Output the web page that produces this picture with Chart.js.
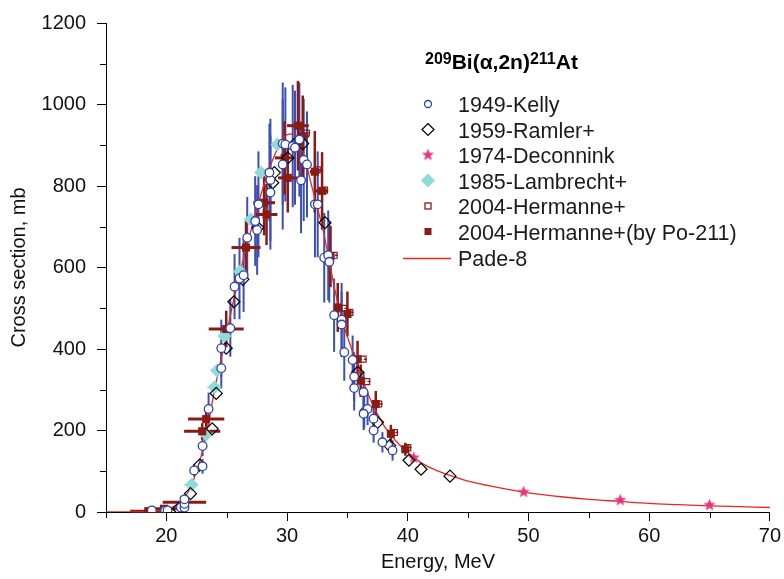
<!DOCTYPE html>
<html>
<head>
<meta charset="utf-8">
<script src="https://cdn.jsdelivr.net/npm/chart.js@4.4.1/dist/chart.umd.min.js"></script>
<style>
  html, body { margin: 0; padding: 0; background: #fff; }
  canvas { display: block; }
</style>
</head>
<body>
<canvas id="xsChart" width="784" height="579"></canvas>
<script>
// === DATA ===
const kellyE   = [18.8, 19.9, 20.1, 21.2, 21.5, 21.5, 21.5, 22.3, 23.0, 23.0, 23.5, 24.55, 24.55, 25.3, 25.65, 26.06, 26.4, 26.7, 27.36, 27.52, 27.63, 28.62, 28.62, 28.54, 29.64, 29.64, 29.86, 30.47, 30.66, 31.02, 31.38, 31.65, 31.16, 32.31, 32.54, 33.08, 33.41, 33.5, 33.9, 34.52, 34.52, 34.74, 35.43, 35.56, 35.56, 36.34, 36.39, 36.67, 36.34, 37.17, 37.17, 37.9, 38.74];
const kellyCS  = [4, 4, 4, 11, 11, 20, 31, 102, 112, 162, 253, 353, 402, 451, 553, 573, 581, 673, 714, 692, 755, 784, 815, 833, 853, 904, 902, 898, 894, 914, 864, 853, 814, 755, 755, 624, 630, 614, 483, 472, 460, 392, 373, 332, 304, 294, 245, 253, 241, 229, 200, 171, 151];
const kellyErr = [3, 3, 3, 5, 5, 6, 10, 15, 18, 25, 40, 50, 70, 70, 80, 100, 90, 100, 110, 110, 130, 140, 150, 120, 160, 150, 140, 150, 140, 140, 150, 130, 130, 130, 130, 110, 110, 100, 90, 90, 80, 70, 60, 60, 55, 50, 40, 40, 40, 35, 30, 25, 25];

const ramlerE  = [21.0, 22.0, 22.75, 23.8, 24.13, 24.96, 25.6, 26.34, 27.58, 28.82, 28.95, 30.06, 30.6, 31.3, 33.14, 35.86, 37.5, 38.5, 40.1, 41.1, 43.5];
const ramlerCS = [8, 45, 115, 204, 291, 402, 516, 571, 698, 808, 833, 869, 902, 904, 710, 343, 220, 163, 127, 105, 88];

const deconE   = [40.5, 49.6, 57.6, 65.0];
const deconCS  = [133, 49, 29, 17];

const lambE    = [22.1, 23.3, 24.0, 24.2, 24.8, 26.1, 27.0, 27.85, 29.2];
const lambCS   = [67, 190, 306, 347, 432, 590, 718, 833, 902];
const lambErrE = [0.6, 0.5, 0.6, 0.5, 0.5, 0.4, 0.5, 0.5, 0.4];

const hermE    = [31.6, 32.5, 33.1, 33.9, 34.7, 35.2, 36.3, 36.6, 37.6, 38.9, 40.0];
const hermCS   = [930, 840, 790, 630, 500, 490, 375, 320, 265, 195, 158];
const hermErrE = [0.35, 0.35, 0.35, 0.35, 0.35, 0.35, 0.35, 0.35, 0.35, 0.35, 0.35];

const poE      = [18.5, 19.8, 21.5, 22.97, 23.3, 24.96, 26.6, 28.1, 28.3, 29.8, 30.06, 30.9, 31.3, 32.3, 32.9, 33.6, 34.2, 35.0, 35.84, 36.1, 37.35, 38.6, 39.8];
const poCS     = [2, 8, 24, 198, 228, 449, 649, 759, 730, 869, 820, 948, 922, 835, 788, 627, 502, 486, 375, 322, 265, 192, 154];
const poErrE   = [1.5, 1.5, 1.8, 1.5, 1.5, 1.45, 1.2, 0.9, 0.9, 0.8, 0.8, 0.9, 0.5, 0.4, 0.5, 0.3, 0.3, 0.3, 0.3, 0.3, 0.3, 0.3, 0.3];
const poErrCS  = [0, 2, 5, 20, 25, 45, 65, 80, 75, 90, 85, 110, 100, 100, 95, 75, 60, 55, 45, 40, 32, 22, 16];

const padeE    = [15, 17, 18, 19, 20, 21, 21.5, 22, 22.5, 23, 23.5, 24, 24.5, 25, 25.5, 26, 26.5, 27, 27.5, 28, 28.5, 29, 29.5, 30, 30.5, 31, 31.5, 32, 32.5, 33, 33.5, 34, 34.5, 35, 35.5, 36, 36.5, 37, 37.5, 38, 38.5, 39, 40, 40.5, 41, 42, 43, 44, 45, 47, 50, 52.5, 55, 57.5, 60, 62.5, 65, 67.5, 70];
const padeCS   = [0, 0, 0.5, 2, 6, 20, 35, 60, 100, 150, 220, 300, 370, 440, 510, 575, 635, 690, 745, 795, 840, 878, 908, 926, 928, 908, 865, 805, 748, 690, 615, 540, 478, 430, 388, 345, 305, 270, 240, 213, 193, 175, 146, 135, 123, 107, 95, 85, 76, 63, 47, 38, 31, 26, 21, 18, 15, 13, 11];

const xTicksMajor = [20, 30, 40, 50, 60, 70];
const yTicksMajor = [0, 200, 400, 600, 800, 1000, 1200];

const legendLabels = ['1949-Kelly', '1959-Ramler+', '1974-Deconnink', '1985-Lambrecht+', '2004-Hermanne+', '2004-Hermanne+(by Po-211)', 'Pade-8'];

// === COLOURS ===
const BLUE = '#2e42ab';
const BLUE_BAR = '#3b4fb5';
const DARKRED = '#8a1a14';
const CYAN = '#8fdcd5';
const PINK = '#e8357f';
const RED = '#e8281e';
const FONT = "'Liberation Sans', Arial, sans-serif";

const pts = (xs, ys) => xs.map((x, i) => ({ x, y: ys[i] }));

function makeStar(r, color) {
    const c = document.createElement('canvas');
    c.width = c.height = Math.ceil(r * 2 + 2);
    const g = c.getContext('2d');
    const cx = c.width / 2, cy = c.height / 2;
    g.beginPath();
    for (let i = 0; i < 10; i++) {
        const rr = i % 2 ? r * 0.42 : r;
        const a = -Math.PI / 2 + i * Math.PI / 5;
        g.lineTo(cx + rr * Math.cos(a), cy + rr * Math.sin(a));
    }
    g.closePath();
    g.fillStyle = color;
    g.fill();
    return c;
}
const starImg = makeStar(6.5, PINK);

// === PLUGINS ===
const errorBars = {
    id: 'errorBars',
    beforeDatasetsDraw(chart) {
        const { ctx, scales: { x, y } } = chart;
        ctx.save();
        chart.data.datasets.forEach(ds => {
            if (!ds.err) return;
            ds.data.forEach((p, i) => {
                const px = x.getPixelForValue(p.x), py = y.getPixelForValue(p.y);
                const ey = ds.err.y ? ds.err.y[i] : 0;
                const ex = ds.err.x ? ds.err.x[i] : 0;
                if (ey) {
                    ctx.beginPath();
                    ctx.strokeStyle = ds.err.color;
                    ctx.lineWidth = ds.err.wy || 2;
                    ctx.setLineDash(ds.err.dash || []);
                    ctx.moveTo(px, y.getPixelForValue(p.y - ey));
                    ctx.lineTo(px, y.getPixelForValue(p.y + ey));
                    ctx.stroke();
                }
                if (ex) {
                    ctx.beginPath();
                    ctx.strokeStyle = ds.err.color;
                    ctx.lineWidth = ds.err.wx || 2;
                    ctx.setLineDash(ds.err.dash || []);
                    ctx.moveTo(x.getPixelForValue(p.x - ex), py);
                    ctx.lineTo(x.getPixelForValue(p.x + ex), py);
                    ctx.stroke();
                }
            });
        });
        ctx.restore();
    }
};

const minorTicks = {
    id: 'minorTicks',
    afterDraw(chart) {
        const { ctx, scales: { x, y }, chartArea } = chart;
        ctx.save();
        ctx.strokeStyle = '#000';
        ctx.lineWidth = 1;
        ctx.beginPath();
        x.ticks.forEach(t => {
            if (t.value % 10 === 0) return;
            const px = Math.round(x.getPixelForValue(t.value)) + 0.5;
            ctx.moveTo(px, chartArea.bottom);
            ctx.lineTo(px, chartArea.bottom + 6);
        });
        y.ticks.forEach(t => {
            if (t.value % 200 === 0) return;
            const py = Math.round(y.getPixelForValue(t.value)) + 0.5;
            ctx.moveTo(chartArea.left, py);
            ctx.lineTo(chartArea.left - 6, py);
        });
        ctx.stroke();
        ctx.restore();
    }
};

const sideLegend = {
    id: 'sideLegend',
    afterDraw(chart) {
        const { ctx } = chart;
        ctx.save();
        // title: 209Bi(α,2n)211At
        let tx = 425;
        const parts = [['209', true], ['Bi(\u03b1,2n)', false], ['211', true], ['At', false]];
        ctx.fillStyle = '#000';
        ctx.textBaseline = 'alphabetic';
        parts.forEach(([s, sup]) => {
            ctx.font = sup ? `bold 16px ${FONT}` : `bold 21px ${FONT}`;
            ctx.fillText(s, tx, sup ? 64 : 69);
            tx += ctx.measureText(s).width;
        });

        const mx = 428, textX = 458;
        const base = [112, 137.5, 163, 188.5, 214, 239.5, 266];
        ctx.font = `21.5px ${FONT}`;
        legendLabels.forEach((lab, i) => {
            ctx.fillStyle = '#1a1a1a';
            ctx.fillText(lab, textX, base[i]);
        });
        const cy = base.map(b => b - 8);
        // Kelly
        ctx.beginPath(); ctx.arc(mx, cy[0], 3.5, 0, Math.PI * 2);
        ctx.strokeStyle = BLUE; ctx.lineWidth = 1.3; ctx.stroke();
        // Ramler
        ctx.beginPath();
        ctx.moveTo(mx, cy[1] - 6); ctx.lineTo(mx + 6, cy[1]); ctx.lineTo(mx, cy[1] + 6); ctx.lineTo(mx - 6, cy[1]); ctx.closePath();
        ctx.strokeStyle = '#000'; ctx.lineWidth = 1.2; ctx.stroke();
        // Deconnink
        ctx.drawImage(starImg, mx - starImg.width / 2, cy[2] - starImg.height / 2);
        // Lambrecht
        ctx.beginPath();
        ctx.moveTo(mx, cy[3] - 7); ctx.lineTo(mx + 7, cy[3]); ctx.lineTo(mx, cy[3] + 7); ctx.lineTo(mx - 7, cy[3]); ctx.closePath();
        ctx.fillStyle = CYAN; ctx.fill();
        // Hermanne open
        ctx.strokeStyle = DARKRED; ctx.lineWidth = 1.3;
        ctx.strokeRect(mx - 3, cy[4] - 3, 6, 6);
        // Hermanne filled
        ctx.fillStyle = DARKRED;
        ctx.fillRect(mx - 3.5, cy[5] - 3.5, 7, 7);
        // Pade
        ctx.beginPath(); ctx.moveTo(403, cy[6] + 0.5); ctx.lineTo(451, cy[6] + 0.5);
        ctx.strokeStyle = RED; ctx.lineWidth = 1.3; ctx.stroke();
        ctx.restore();
    }
};

// === CHART ===
const ctx = document.getElementById('xsChart').getContext('2d');
new Chart(ctx, {
    type: 'scatter',
    data: {
        datasets: [
            {
                label: legendLabels[0], data: pts(kellyE, kellyCS),
                pointStyle: 'circle', pointRadius: 4.3, borderColor: BLUE, borderWidth: 1.3, backgroundColor: '#fff',
                err: { y: kellyErr, color: BLUE_BAR, wy: 2 }
            },
            {
                label: legendLabels[1], data: pts(ramlerE, ramlerCS),
                pointStyle: 'rectRot', pointRadius: 6, borderColor: '#000', borderWidth: 1.2, backgroundColor: 'rgba(255,255,255,0)'
            },
            {
                label: legendLabels[2], data: pts(deconE, deconCS),
                pointStyle: starImg, pointRadius: 6
            },
            {
                label: legendLabels[5], data: pts(poE, poCS),
                pointStyle: 'rect', pointRadius: 5.7, borderWidth: 0, backgroundColor: DARKRED,
                err: { x: poErrE, y: poErrCS, color: DARKRED, wx: 3, wy: 2.5 }
            },
            {
                label: legendLabels[4], data: pts(hermE, hermCS),
                pointStyle: 'rect', pointRadius: 4.2, borderColor: DARKRED, borderWidth: 1.2, backgroundColor: 'rgba(255,255,255,0)',
                err: { x: hermErrE, color: DARKRED, wx: 1.5, dash: [3, 2] }
            },
            {
                label: legendLabels[3], data: pts(lambE, lambCS),
                pointStyle: 'rectRot', pointRadius: 7, borderWidth: 0, backgroundColor: CYAN,
                err: { x: lambErrE, color: CYAN, wx: 2, dash: [5, 3] }
            },
            {
                label: legendLabels[6], data: pts(padeE, padeCS),
                showLine: true, pointRadius: 0, borderColor: RED, borderWidth: 1.3,
                cubicInterpolationMode: 'monotone', fill: false
            }
        ]
    },
    options: {
        responsive: false,
        animation: false,
        events: [],
        layout: { padding: { top: 18, right: 14, left: 0, bottom: 0 } },
        plugins: { legend: { display: false }, tooltip: { enabled: false } },
        scales: {
            x: {
                type: 'linear', min: 15, max: 70,
                afterFit: s => { s.height = 67; },
                border: { display: true, color: '#000', width: 1 },
                grid: {
                    drawOnChartArea: false, tickLength: 9, tickWidth: 1,
                    tickColor: c => xTicksMajor.includes(c.tick.value) ? '#000' : 'rgba(0,0,0,0)'
                },
                ticks: {
                    stepSize: 5, color: '#111', padding: 3, maxRotation: 0,
                    font: { family: FONT, size: 20 },
                    callback: v => xTicksMajor.includes(v) ? String(v) : ''
                },
                title: { display: true, text: 'Energy, MeV', color: '#111', font: { family: FONT, size: 20 }, padding: { top: 0, bottom: 5 } }
            },
            y: {
                type: 'linear', min: 0, max: 1200,
                afterFit: s => { s.width = 106; },
                border: { display: true, color: '#000', width: 1 },
                grid: {
                    drawOnChartArea: false, tickLength: 9, tickWidth: 1,
                    tickColor: c => yTicksMajor.includes(c.tick.value) ? '#000' : 'rgba(0,0,0,0)'
                },
                ticks: {
                    stepSize: 100, color: '#111', padding: 11,
                    font: { family: FONT, size: 20 },
                    callback: v => yTicksMajor.includes(v) ? String(v) : ''
                },
                title: { display: true, text: 'Cross section, mb', color: '#111', font: { family: FONT, size: 20 }, padding: { top: 7, bottom: 0 } }
            }
        }
    },
    plugins: [errorBars, minorTicks, sideLegend]
});
</script>
</body>
</html>
